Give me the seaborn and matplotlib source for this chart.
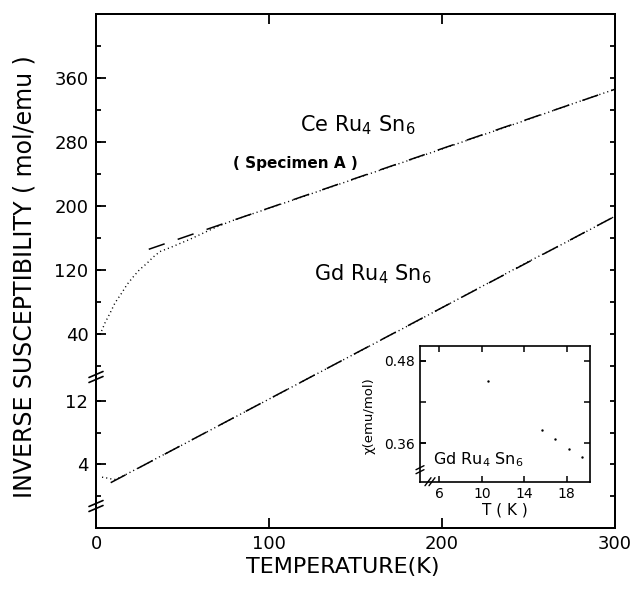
import matplotlib
matplotlib.use("Agg")
import matplotlib.pyplot as plt
import seaborn as sns
import pandas as pd
from matplotlib.ticker import FixedLocator, FormatStrFormatter

# ---------------- data ----------------
ce_T = [2.3, 5.2, 8.1, 11, 14.8, 18, 21.6, 25, 29.3, 33, 37, 43, 48.5, 54, 60,
        70, 80, 100, 125, 150, 175, 200, 225, 250, 275, 300]
ce_inv = [39, 54, 66, 79, 91, 102, 111.6, 120, 128, 136, 143, 148, 153, 158, 164,
          174, 182.5, 197, 215.5, 234, 252.5, 271, 289.5, 308, 327, 345.5]
ce_fit_T = [30.5, 300]
ce_fit_inv = [145.8, 345.5]

gd_T = [3.5, 5, 7, 9, 11, 14, 18, 25, 35, 50, 70, 90, 110, 130, 150, 175, 200,
        225, 250, 275, 300]
gd_inv = [2.38, 2.33, 2.25, 2.15, 2.1, 2.35, 2.8, 3.6, 4.75, 6.45, 8.75, 11.05,
          13.35, 15.65, 17.95, 20.8, 23.7, 26.6, 29.5, 32.3, 35.2]
gd_fit_T = [8.5, 300]
gd_fit_inv = [1.69, 35.2]

inset_T = [10.6, 15.7, 16.9, 18.2, 19.4]
inset_chi = [0.4505, 0.380, 0.3657, 0.3517, 0.3396]

x_ticks = [0, 100, 200, 300]
ce_major = [40, 120, 200, 280, 360]
ce_minor = [0, 40, 80, 120, 160, 200, 240, 280, 320, 360, 400]
gd_major = [4, 12]
gd_minor = [0, 4, 8, 12]
inset_xticks = [6, 10, 14, 18]
inset_yticks = [0.36, 0.48]
inset_yminor = [0.36, 0.42, 0.48]

# ---------------- style ----------------
sns.set_style("white")
plt.rcParams["font.family"] = ["DejaVu Sans"]
plt.rcParams["mathtext.fontset"] = "dejavusans"
plt.rcParams["axes.edgecolor"] = "black"
plt.rcParams["axes.linewidth"] = 1.4
plt.rcParams["text.color"] = "black"
plt.rcParams["xtick.color"] = "black"
plt.rcParams["ytick.color"] = "black"
plt.rcParams["axes.labelcolor"] = "black"

fig = plt.figure(figsize=(6.34, 5.94), dpi=100)
ax = fig.add_axes([0.15142, 0.11111, 0.81861, 0.86532])   # Gd scale
axc = ax.twinx()                                          # Ce scale

ce_df = pd.DataFrame({"T": ce_T, "inv": ce_inv})
ce_fit = pd.DataFrame({"T": ce_fit_T, "inv": ce_fit_inv})
gd_df = pd.DataFrame({"T": gd_T, "inv": gd_inv})
gd_fit = pd.DataFrame({"T": gd_fit_T, "inv": gd_fit_inv})

sns.lineplot(data=gd_df, x="T", y="inv", ax=ax, color="black", lw=1.0,
             linestyle=(0, (0.8, 2.2)), sort=False)
sns.lineplot(data=gd_fit, x="T", y="inv", ax=ax, color="black", lw=1.1,
             linestyle=(0, (11, 9)), sort=False)
sns.lineplot(data=ce_df, x="T", y="inv", ax=axc, color="black", lw=1.0,
             linestyle=(0, (0.8, 2.2)), sort=False)
sns.lineplot(data=ce_fit, x="T", y="inv", ax=axc, color="black", lw=1.1,
             linestyle=(0, (11, 9)), sort=False)

ax.set_xlim(0, 300)
ax.set_ylim(-4.01, 60.64)
axc.set_ylim(-202.0, 439.4)
ax.set_xlabel("")
ax.set_ylabel("")
axc.set_ylabel("")

# x ticks
ax.xaxis.set_major_locator(FixedLocator(x_ticks))
ax.tick_params(axis="x", which="major", direction="in", bottom=True, top=True,
               length=7.2, width=1.3, labelsize=13, pad=5, colors="black")

# Gd axis ticks (lower section)
ax.yaxis.set_major_locator(FixedLocator(gd_major))
ax.yaxis.set_minor_locator(FixedLocator(gd_minor))
ax.yaxis.remove_overlapping_locs = False
ax.tick_params(axis="y", which="major", direction="in", left=True, right=False,
               length=7.2, width=1.3, labelsize=13, pad=5.5, colors="black")
ax.tick_params(axis="y", which="minor", direction="in", left=True, right=True,
               length=3.8, width=1.3, colors="black")

# Ce axis ticks (upper section), shown on the left side
axc.yaxis.set_major_locator(FixedLocator(ce_major))
axc.yaxis.set_minor_locator(FixedLocator(ce_minor))
axc.yaxis.remove_overlapping_locs = False
axc.yaxis.set_ticks_position("both")
axc.tick_params(axis="y", which="major", direction="in", left=True, right=False,
                labelleft=True, labelright=False, length=7.2, width=1.3,
                labelsize=13, pad=5.5, colors="black")
axc.tick_params(axis="y", which="minor", direction="in", left=True, right=True,
                length=3.8, width=1.3, colors="black")

for a in (ax, axc):
    for s in a.spines.values():
        s.set_linewidth(1.4)
        s.set_color("black")

# axis-break marks on the left spine
W, H = 519.0, 514.0
for yb in (0.2938, 0.0428):
    for off in (-2.5, 2.5):
        ax.plot([-7 / W, 7 / W], [yb + (off - 3) / H, yb + (off + 3) / H],
                transform=ax.transAxes, color="black", lw=1.2, clip_on=False)

# labels
fig.text(0.038, 0.5337, "INVERSE SUSCEPTIBILITY ( mol/emu )", rotation=90,
         ha="center", va="center", fontsize=17, color="black")
fig.text(0.541, 0.0455, "TEMPERATURE(K)", ha="center", va="center",
         fontsize=16, color="black")

ax.text(0.393, 0.772, r"Ce Ru$_4$ Sn$_6$", transform=ax.transAxes,
        fontsize=15, ha="left", va="baseline", color="black")
ax.text(0.264, 0.700, "( Specimen A )", transform=ax.transAxes,
        fontsize=11, fontweight="bold", ha="left", va="baseline", color="black")
ax.text(0.420, 0.4825, r"Gd Ru$_4$ Sn$_6$", transform=ax.transAxes,
        fontsize=15, ha="left", va="baseline", color="black")

# ---------------- inset ----------------
axi = fig.add_axes([0.66246, 0.18906, 0.26814, 0.22845])
inset_df = pd.DataFrame({"T": inset_T, "chi": inset_chi})
sns.scatterplot(data=inset_df, x="T", y="chi", ax=axi, color="black", s=3,
                linewidth=0)
axi.set_xlim(4.18, 20.19)
axi.set_ylim(0.3042, 0.5014)
axi.set_xlabel("")
axi.set_ylabel("")
axi.xaxis.set_major_locator(FixedLocator(inset_xticks))
axi.yaxis.set_major_locator(FixedLocator(inset_yticks))
axi.yaxis.set_minor_locator(FixedLocator(inset_yminor))
axi.yaxis.remove_overlapping_locs = False
axi.yaxis.set_major_formatter(FormatStrFormatter("%.2f"))
axi.tick_params(axis="x", which="major", direction="in", bottom=True, top=True,
                length=4, width=1.1, labelsize=10, pad=4, colors="black")
axi.tick_params(axis="y", which="major", direction="in", left=True, right=False,
                length=4, width=1.1, labelsize=10, pad=4, colors="black")
axi.tick_params(axis="y", which="minor", direction="in", left=True, right=True,
                length=4, width=1.1, colors="black")
for s in axi.spines.values():
    s.set_linewidth(1.2)
    s.set_color("black")

Wi, Hi = 170.0, 135.7
for off in (-2, 2):
    axi.plot([-4 / Wi, 4 / Wi], [(12 + off - 2) / Hi, (12 + off + 2) / Hi],
             transform=axi.transAxes, color="black", lw=1.0, clip_on=False)
    axi.plot([(10 + off - 3) / Wi, (10 + off + 3) / Wi], [-4 / Hi, 4 / Hi],
             transform=axi.transAxes, color="black", lw=1.0, clip_on=False)

axi.text(0.0765, 0.130, r"Gd Ru$_4$ Sn$_6$", transform=axi.transAxes,
         fontsize=11.5, ha="left", va="baseline", color="black")
fig.text(0.582, 0.301, "χ(emu/mol)", rotation=90, ha="center", va="center",
         fontsize=9.5, color="black")
fig.text(0.7965, 0.1414, "T ( K )", ha="center", va="center", fontsize=11,
         color="black")

fig.savefig("out.png", dpi=100)
